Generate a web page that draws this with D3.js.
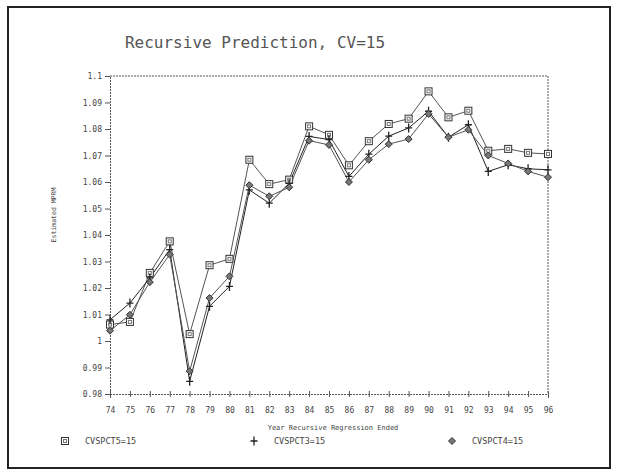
<!DOCTYPE html>
<html>
<head>
<meta charset="utf-8">
<script src="https://cdn.jsdelivr.net/npm/d3@7"></script>
<style>
    body { margin: 0; background: #fff; }
    svg text { font-family: "DejaVu Sans Mono", monospace; fill: #444; }
</style>
</head>
<body>
<svg id="chart" width="617" height="473"></svg>
<script>
var years = ["74", "75", "76", "77", "78", "79", "80", "81", "82", "83", "84", "85",
             "86", "87", "88", "89", "90", "91", "92", "93", "94", "95", "96"];
var yTicks = [0.98, 0.99, 1, 1.01, 1.02, 1.03, 1.04, 1.05, 1.06, 1.07, 1.08, 1.09, 1.1];

// square markers
var cvspct5 = [1.0062, 1.0072, 1.0257, 1.0376, 1.0026, 1.0286, 1.0310, 1.0684, 1.0592, 1.0609, 1.0810, 1.0778,
               1.0663, 1.0754, 1.0819, 1.0839, 1.0942, 1.0844, 1.0869, 1.0718, 1.0725, 1.0710, 1.0706];
// plus markers
var cvspct3 = [1.0080, 1.0143, 1.0238, 1.0345, 0.9848, 1.0131, 1.0206, 1.0570, 1.0520, 1.0595, 1.0772, 1.0760,
               1.0621, 1.0705, 1.0773, 1.0804, 1.0867, 1.0769, 1.0816, 1.0640, 1.0665, 1.0650, 1.0646];
// diamond markers
var cvspct4 = [1.0039, 1.0099, 1.0222, 1.0326, 0.9886, 1.0162, 1.0244, 1.0588, 1.0546, 1.0580, 1.0756, 1.0740,
               1.0600, 1.0684, 1.0743, 1.0762, 1.0857, 1.0769, 1.0797, 1.0700, 1.0670, 1.0640, 1.0618];

var seriesNames = ["CVSPCT5=15", "CVSPCT3=15", "CVSPCT4=15"];
var seriesShapes = ["square", "plus", "diamond"];

var svg = d3.select("#chart");
var plotLeft = 110, plotRight = 548, plotTop = 76, plotBottom = 394;

var xScale = d3.scalePoint().domain(years).range([plotLeft, plotRight]);
var yScale = d3.scaleLinear().domain([0.98, 1.1]).range([plotBottom, plotTop]);

// outer frame
svg.append("rect")
    .attr("x", 8).attr("y", 7).attr("width", 602).attr("height", 461)
    .attr("fill", "none").attr("stroke", "#222").attr("stroke-width", 2);

svg.append("text")
    .attr("x", 255).attr("y", 48)
    .attr("text-anchor", "middle")
    .style("font-size", "16px")
    .style("fill", "#555")
    .text("Recursive Prediction, CV=15");

// plot box (top and right)
svg.append("path")
    .attr("d", "M" + plotLeft + "," + plotTop + "H" + plotRight + "V" + plotBottom)
    .attr("fill", "none").attr("stroke", "#555").attr("stroke-dasharray", "2,1");

var yAxis = d3.axisLeft(yScale).tickValues(yTicks).tickSize(5).tickFormat(function (d) { return String(d); });
var gy = svg.append("g").attr("transform", "translate(" + plotLeft + ",0)").call(yAxis);

var xAxis = d3.axisBottom(xScale).tickSize(4).tickPadding(9);
var gx = svg.append("g").attr("transform", "translate(0," + plotBottom + ")").call(xAxis);

[gy, gx].forEach(function (g) {
    g.select(".domain").attr("stroke", "#555").attr("stroke-dasharray", "2,1");
    g.selectAll(".tick line").attr("stroke", "#555");
    g.selectAll(".tick text").style("font-size", "8px").style("fill", "#444")
        .style("font-family", "'DejaVu Sans Mono', monospace");
});
gx.selectAll(".tick line").attr("y1", -3).attr("y2", 3);

svg.append("text")
    .attr("transform", "translate(56,215) rotate(-90)")
    .attr("text-anchor", "middle")
    .style("font-size", "6.5px")
    .text("Estimated MPRM");

svg.append("text")
    .attr("x", 333).attr("y", 430)
    .attr("text-anchor", "middle")
    .style("font-size", "7px")
    .text("Year Recursive Regression Ended");

function marker(g, shape, x, y) {
    var s = 3.5;
    if (shape == "square") {
        g.append("rect").attr("x", x - s).attr("y", y - s).attr("width", 2 * s).attr("height", 2 * s)
            .attr("fill", "#fff").attr("stroke", "#333");
        g.append("rect").attr("x", x - 1.5).attr("y", y - 1.5).attr("width", 3).attr("height", 3)
            .attr("fill", "none").attr("stroke", "#777");
    } else if (shape == "plus") {
        g.append("path").attr("d", "M" + (x - s) + "," + y + "H" + (x + s) + "M" + x + "," + (y - s - 1) + "V" + (y + s + 1))
            .attr("stroke", "#222").attr("stroke-width", 1.3);
    } else {
        g.append("path").attr("d", "M" + x + "," + (y - s) + "L" + (x + s) + "," + y + "L" + x + "," + (y + s) + "L" + (x - s) + "," + y + "Z")
            .attr("fill", "#777").attr("stroke", "#333");
    }
}

var line = d3.line()
    .x(function (d, i) { return xScale(years[i]); })
    .y(function (d) { return yScale(d); });

var allSeries = [cvspct5, cvspct3, cvspct4];
allSeries.forEach(function (values, k) {
    svg.append("path")
        .attr("d", line(values))
        .attr("fill", "none")
        .attr("stroke", k == 1 ? "#222" : "#555")
        .attr("stroke-width", 1);
});
allSeries.forEach(function (values, k) {
    var g = svg.append("g");
    values.forEach(function (v, i) {
        marker(g, seriesShapes[k], xScale(years[i]), yScale(v));
    });
});

// legend
var legendX = [65, 254, 452];
seriesNames.forEach(function (name, k) {
    var g = svg.append("g");
    marker(g, seriesShapes[k], legendX[k], 441);
    svg.append("text")
        .attr("x", legendX[k] + 20).attr("y", 444)
        .style("font-size", "8.5px")
        .text(name);
});
</script>
</body>
</html>
